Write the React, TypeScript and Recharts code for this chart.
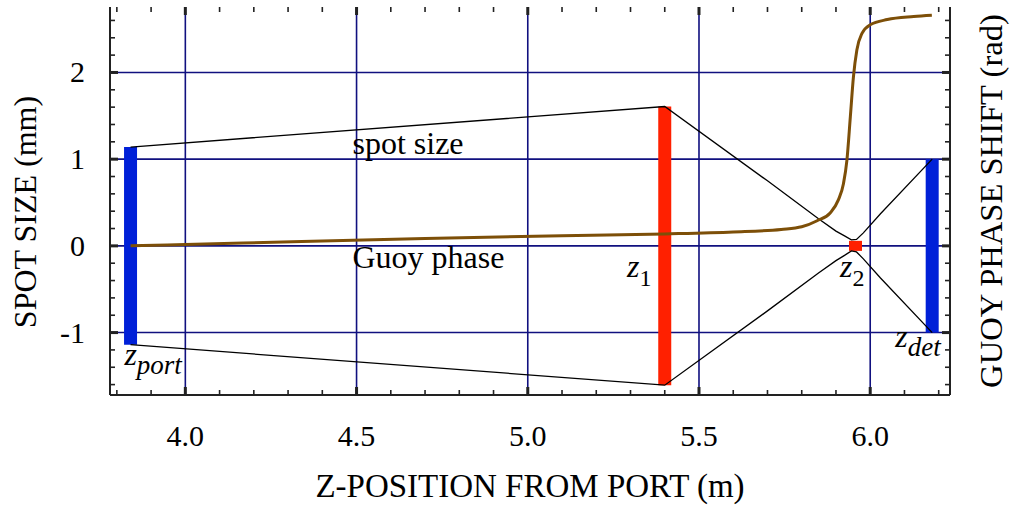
import React from 'react';
import { ComposedChart, Line, XAxis, YAxis, ReferenceLine, ReferenceDot, Label } from 'recharts';

const FONT = '"Liberation Serif", "Times New Roman", Times, serif';

// Optical elements: position along z (m) and half-height of the drawn bar (mm)
const opticSub = ['port', '1', '2', 'det'];
const opticZ = [3.84, 5.4, 5.957, 6.181];
const opticHalf = [1.14, 1.607, 0.058, 1.0];

// Spot size envelope (mm)
const spotZ = [3.84, 5.4, 5.7, 5.85, 5.9, 5.925, 5.945, 5.96, 5.98, 6.03, 6.181];
const spotUpper = [1.14, 1.607, 0.75, 0.31, 0.17, 0.115, 0.07, 0.075, 0.15, 0.37, 1.0];
const spotLower = [-1.14, -1.607, -0.75, -0.31, -0.17, -0.11, -0.058, -0.07, -0.15, -0.37, -1.0];

// Guoy phase (rad)
const phaseZ = [3.84, 4.0, 4.34, 4.7, 5.1, 5.4, 5.6, 5.74, 5.8, 5.845, 5.883, 5.907, 5.922, 5.932, 5.942, 5.951, 5.961, 5.976, 6.0, 6.05, 6.127, 6.18];
const phaseVal = [0, 0.015, 0.05, 0.085, 0.118, 0.138, 0.16, 0.19, 0.22, 0.29, 0.38, 0.53, 0.72, 0.99, 1.49, 1.95, 2.26, 2.45, 2.55, 2.61, 2.645, 2.66];

// Ticks
const xMajor = [4.0, 4.5, 5.0, 5.5, 6.0];
const xTicks = [3.8, 3.9, 4.0, 4.1, 4.2, 4.3, 4.4, 4.5, 4.6, 4.7, 4.8, 4.9, 5.0, 5.1, 5.2, 5.3, 5.4, 5.5, 5.6, 5.7, 5.8, 5.9, 6.0, 6.1, 6.2];
const yMajor = [-1, 0, 1, 2];
const yTicks = [-1.6, -1.4, -1.2, -1, -0.8, -0.6, -0.4, -0.2, 0, 0.2, 0.4, 0.6, 0.8, 1, 1.2, 1.4, 1.6, 1.8, 2, 2.2, 2.4, 2.6];

const X_MIN = 3.78;
const X_MAX = 6.233;
const Y_MIN = -1.72;
const Y_MAX = 2.755;

const opticColors = ['#0020d8', '#ff2000', '#ff2000', '#0020d8'];

const toPts = (zs: number[], vs: number[]) => zs.map((z, i) => ({ z, v: vs[i] }));
const spotUpperData = toPts(spotZ, spotUpper);
const spotLowerData = toPts(spotZ, spotLower);
const phaseData = toPts(phaseZ, phaseVal);
const opticData = opticZ.map((z, i) => [
  { z, v: -opticHalf[i] },
  { z, v: opticHalf[i] },
]);

const isIn = (v: number, list: number[]) => list.some((m) => Math.abs(m - v) < 1e-6);
const TICK = '#222';
// tick lengths expressed in axis units (≈8px major, ≈5px minor)
const X_UNIT_PX = 342.5;
const Y_UNIT_PX = 86.7;
const MAJ = 8;
const MIN = 5;

const BottomTick = (p: any) => {
  const { x, y, payload } = p;
  if (!isIn(payload.value, xMajor)) return <g />;
  return (
    <text x={x} y={y + 51} textAnchor="middle" fontFamily={FONT} fontSize={30} fill="#000">
      {payload.value.toFixed(1)}
    </text>
  );
};
const LeftTick = (p: any) => {
  const { x, y, payload } = p;
  if (!isIn(payload.value, yMajor)) return <g />;
  return (
    <text x={x - 25} y={y + 10} textAnchor="end" fontFamily={FONT} fontSize={30} fill="#000">
      {String(payload.value)}
    </text>
  );
};

const LeftAxisLabel = (p: any) => {
  const vb = p.viewBox;
  const x = vb.x + 36;
  const y = vb.y + vb.height / 2 + 11;
  return (
    <text x={x} y={y} transform={`rotate(-90, ${x}, ${y})`} textAnchor="middle" fontFamily={FONT} fontSize={32} fill="#000">
      SPOT SIZE (mm)
    </text>
  );
};
const RightAxisLabel = (p: any) => {
  const vb = p.viewBox;
  const x = vb.x + 52;
  const y = vb.y + vb.height / 2;
  return (
    <text x={x} y={y} transform={`rotate(-90, ${x}, ${y})`} textAnchor="middle" fontFamily={FONT} fontSize={32.6} fill="#000">
      GUOY PHASE SHIFT (rad)
    </text>
  );
};
const BottomAxisLabel = (p: any) => {
  const vb = p.viewBox;
  return (
    <text x={vb.x + vb.width / 2} y={vb.y + 102} textAnchor="middle" fontFamily={FONT} fontSize={33} fill="#000">
      Z-POSITION FROM PORT (m)
    </text>
  );
};

const zLabel = (sub: string, italicSub: boolean) => (p: any) => {
  const vb = p.viewBox;
  return (
    <text x={vb.x} y={vb.y} fontFamily={FONT} fontSize={32} fill="#000">
      <tspan fontStyle="italic">z</tspan>
      <tspan fontSize={italicSub ? 27 : 24} dy={9} fontStyle={italicSub ? 'italic' : 'normal'}>
        {sub}
      </tspan>
    </text>
  );
};
const plainLabel = (txt: string) => (p: any) => {
  const vb = p.viewBox;
  return (
    <text x={vb.x} y={vb.y} fontFamily={FONT} fontSize={32} fill="#000">
      {txt}
    </text>
  );
};

// annotation anchors (left edge / baseline) in data coordinates
const annotZ = [3.822, 5.29, 5.912, 6.073];
const annotV = [-1.372, -0.357, -0.357, -1.165];

const GRID = '#10107f';

export default function App() {
  const tickSegs: any[] = [];
  xTicks.forEach((v) => {
    const major = isIn(v, xMajor);
    const len = (major ? MAJ : MIN) / Y_UNIT_PX;
    const w = major ? 3 : 1.6;
    tickSegs.push(
      <ReferenceLine key={'xb' + v} xAxisId="b" yAxisId="l" segment={[{ x: v, y: Y_MIN }, { x: v, y: Y_MIN + len }]} stroke={TICK} strokeWidth={w} ifOverflow="visible" />,
      <ReferenceLine key={'xt' + v} xAxisId="b" yAxisId="l" segment={[{ x: v, y: Y_MAX }, { x: v, y: Y_MAX - len }]} stroke={TICK} strokeWidth={w} ifOverflow="visible" />
    );
  });
  yTicks.forEach((v) => {
    const major = isIn(v, yMajor);
    const len = (major ? MAJ : MIN) / X_UNIT_PX;
    const w = major ? 3 : 1.6;
    tickSegs.push(
      <ReferenceLine key={'yl' + v} xAxisId="b" yAxisId="l" segment={[{ x: X_MIN, y: v }, { x: X_MIN + len, y: v }]} stroke={TICK} strokeWidth={w} ifOverflow="visible" />,
      <ReferenceLine key={'yr' + v} xAxisId="b" yAxisId="l" segment={[{ x: X_MAX, y: v }, { x: X_MAX - len, y: v }]} stroke={TICK} strokeWidth={w} ifOverflow="visible" />
    );
  });

  return (
    <div style={{ position: 'absolute', left: 0, top: 0, width: 1014, height: 506, background: '#fff' }}>
      <ComposedChart width={1014} height={506} margin={{ top: 7, right: 0, bottom: 0, left: 0 }}>
        <XAxis
          xAxisId="b"
          type="number"
          dataKey="z"
          orientation="bottom"
          domain={[X_MIN, X_MAX]}
          allowDataOverflow
          ticks={xTicks}
          interval={0}
          tickSize={0}
          tickMargin={0}
          tickLine={false}
          tick={BottomTick}
          height={111}
          axisLine={{ stroke: TICK, strokeWidth: 2 }}
          label={<Label content={BottomAxisLabel} />}
        />
        <XAxis
          xAxisId="t"
          type="number"
          dataKey="z"
          orientation="top"
          domain={[X_MIN, X_MAX]}
          allowDataOverflow
          tick={false}
          tickLine={false}
          height={0}
          axisLine={{ stroke: TICK, strokeWidth: 2 }}
        />
        <YAxis
          yAxisId="l"
          type="number"
          orientation="left"
          domain={[Y_MIN, Y_MAX]}
          allowDataOverflow
          ticks={yTicks}
          interval={0}
          tickSize={0}
          tickMargin={0}
          tickLine={false}
          tick={LeftTick}
          width={110}
          axisLine={{ stroke: TICK, strokeWidth: 2 }}
          label={<Label content={LeftAxisLabel} />}
        />
        <YAxis
          yAxisId="r"
          type="number"
          orientation="right"
          domain={[Y_MIN, Y_MAX]}
          allowDataOverflow
          tick={false}
          tickLine={false}
          width={64}
          axisLine={{ stroke: TICK, strokeWidth: 2 }}
          label={<Label content={RightAxisLabel} />}
        />

        {xMajor.map((v) => (
          <ReferenceLine key={'gx' + v} x={v} xAxisId="b" yAxisId="l" stroke={GRID} strokeWidth={1.6} />
        ))}
        {yMajor.map((v) => (
          <ReferenceLine key={'gy' + v} y={v} xAxisId="b" yAxisId="l" stroke={GRID} strokeWidth={1.6} />
        ))}
        {tickSegs}

        {opticData.map((d, i) => (
          <Line
            key={'op' + i}
            data={d}
            xAxisId="b"
            yAxisId="l"
            dataKey="v"
            type="linear"
            stroke={opticColors[i]}
            strokeWidth={13}
            strokeLinecap="butt"
            dot={false}
            activeDot={false}
            isAnimationActive={false}
          />
        ))}

        <Line data={spotUpperData} xAxisId="b" yAxisId="l" dataKey="v" type="linear" stroke="#000" strokeWidth={1.3} dot={false} activeDot={false} isAnimationActive={false} />
        <Line data={spotLowerData} xAxisId="b" yAxisId="l" dataKey="v" type="linear" stroke="#000" strokeWidth={1.3} dot={false} activeDot={false} isAnimationActive={false} />
        <Line data={phaseData} xAxisId="b" yAxisId="l" dataKey="v" type="monotone" stroke="#7d4f08" strokeWidth={3} dot={false} activeDot={false} isAnimationActive={false} />

        <ReferenceDot x={4.488} y={1.06} r={0} xAxisId="b" yAxisId="l" fill="none" stroke="none" label={<Label content={plainLabel('spot size')} />} />
        <ReferenceDot x={4.488} y={-0.25} r={0} xAxisId="b" yAxisId="l" fill="none" stroke="none" label={<Label content={plainLabel('Guoy phase')} />} />
        {opticSub.map((s, i) => (
          <ReferenceDot
            key={'zl' + i}
            x={annotZ[i]}
            y={annotV[i]}
            r={0}
            xAxisId="b"
            yAxisId="l"
            fill="none"
            stroke="none"
            label={<Label content={zLabel(s, s === 'port' || s === 'det')} />}
          />
        ))}
      </ComposedChart>
    </div>
  );
}
